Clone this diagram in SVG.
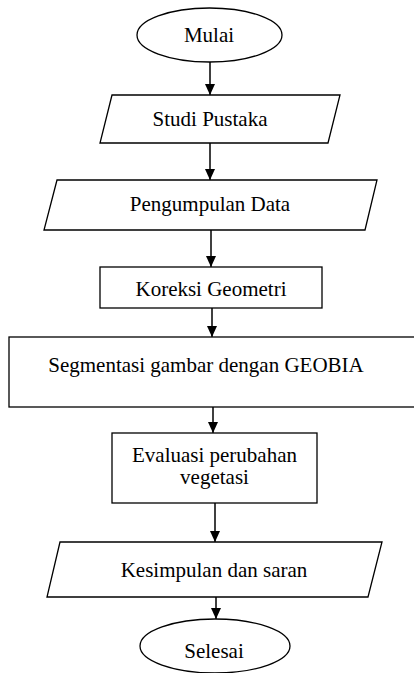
<svg xmlns="http://www.w3.org/2000/svg" width="414" height="673" viewBox="0 0 414 673">
<defs>
<style>
.s{fill:#fff;stroke:#000;stroke-width:1.3}
.t{font-family:"Liberation Serif","Times New Roman",serif;font-size:21px;fill:#000;text-anchor:middle}
.c{stroke:#000;stroke-width:1.5;fill:none}
</style>
<marker id="ah" markerWidth="10" markerHeight="12" refX="11" refY="5" orient="auto" markerUnits="userSpaceOnUse">
<path d="M0,0 L11,5 L0,10 Z" fill="#000"/>
</marker>
</defs>
<rect width="414" height="673" fill="#fff"/>
<g id="connectors">
<line class="c" x1="210" y1="62" x2="210" y2="95" marker-end="url(#ah)"/>
<line class="c" x1="210" y1="143" x2="210" y2="180" marker-end="url(#ah)"/>
<line class="c" x1="211" y1="230" x2="211" y2="267" marker-end="url(#ah)"/>
<line class="c" x1="212" y1="308" x2="212" y2="337" marker-end="url(#ah)"/>
<line class="c" x1="213" y1="407" x2="213" y2="433" marker-end="url(#ah)"/>
<line class="c" x1="215" y1="503" x2="215" y2="542" marker-end="url(#ah)"/>
<line class="c" x1="216" y1="597" x2="216" y2="619" marker-end="url(#ah)"/>
</g>
<g id="mulai">
<ellipse class="s" cx="209.5" cy="35" rx="72.5" ry="27"/>
<text class="t" x="209" y="42">Mulai</text>
</g>
<g id="studi-pustaka">
<polygon class="s" points="112,95 340,95 328,143 100,143"/>
<text class="t" x="210" y="126">Studi Pustaka</text>
</g>
<g id="pengumpulan-data">
<polygon class="s" points="57,180 377,180 365,230 44,230"/>
<text class="t" x="210" y="211">Pengumpulan Data</text>
</g>
<g id="koreksi-geometri">
<rect class="s" x="100" y="267" width="222" height="41"/>
<text class="t" x="211" y="296">Koreksi Geometri</text>
</g>
<g id="segmentasi">
<rect class="s" x="9" y="337" width="420" height="70"/>
<text class="t" x="206" y="372">Segmentasi gambar dengan GEOBIA</text>
</g>
<g id="evaluasi">
<rect class="s" x="112" y="433" width="205" height="70"/>
<text class="t" x="214.5" y="462">Evaluasi perubahan</text>
<text class="t" x="214.5" y="484">vegetasi</text>
</g>
<g id="kesimpulan">
<polygon class="s" points="60,542 382,542 368,597 47,597"/>
<text class="t" x="214" y="577">Kesimpulan dan saran</text>
</g>
<g id="selesai">
<ellipse class="s" cx="215" cy="646" rx="75" ry="27"/>
<text class="t" x="214" y="658">Selesai</text>
</g>
</svg>
